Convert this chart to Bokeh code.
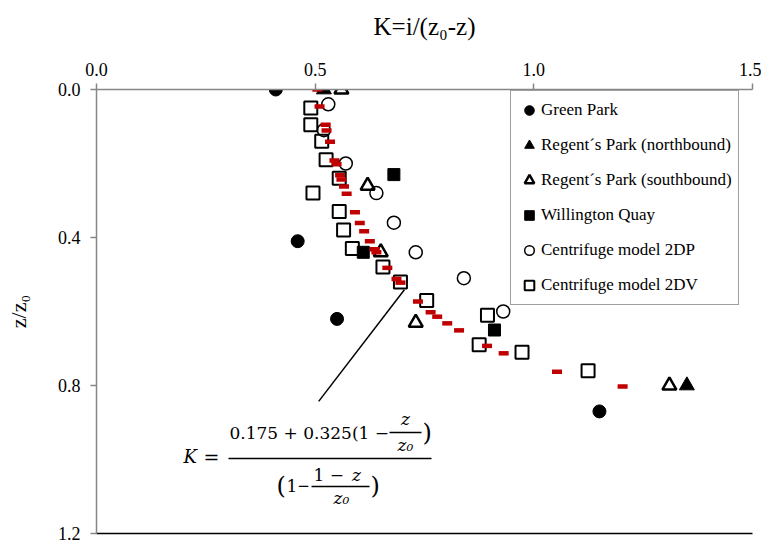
from bokeh.plotting import figure
from bokeh.models import (Range1d, FixedTicker, PrintfTickFormatter, LinearAxis,
                          Legend, LegendItem, Label)
from bokeh.embed import file_html
from bokeh.resources import INLINE

# ---------------- data (K, z/z0) ----------------
x_ticks = [0.0, 0.5, 1.0, 1.5]
y_ticks = [0.0, 0.4, 0.8, 1.2]

green_k = [0.41, 0.46, 0.55, 1.15]
green_z = [0.00, 0.41, 0.62, 0.87]

rpn_k = [0.52, 1.35]
rpn_z = [0.00, 0.80]

rps_k = [0.56, 0.62, 0.65, 0.73, 1.31]
rps_z = [0.00, 0.26, 0.44, 0.63, 0.80]

wq_k = [0.68, 0.61, 0.91]
wq_z = [0.23, 0.44, 0.65]

dp_k = [0.53, 0.52, 0.57, 0.64, 0.68, 0.73, 0.84, 0.93]
dp_z = [0.04, 0.11, 0.20, 0.28, 0.36, 0.44, 0.51, 0.60]

dv_k = [0.49, 0.49, 0.515, 0.525, 0.555, 0.495, 0.555, 0.565, 0.585, 0.655,
        0.695, 0.755, 0.894, 0.875, 0.973, 1.124]
dv_z = [0.05, 0.095, 0.14, 0.19, 0.24, 0.28, 0.33, 0.38, 0.43, 0.48,
        0.52, 0.57, 0.61, 0.69, 0.71, 0.76]

fit_k = [0.505, 0.510, 0.524, 0.526, 0.534, 0.544, 0.549, 0.557, 0.560, 0.566,
         0.572, 0.591, 0.602, 0.612, 0.625, 0.636, 0.640, 0.665, 0.686, 0.695,
         0.735, 0.764, 0.779, 0.802, 0.829, 0.893, 0.931, 1.053, 1.203]
fit_z = [0.00, 0.046, 0.095, 0.111, 0.141, 0.192, 0.202, 0.232, 0.243, 0.262,
         0.282, 0.332, 0.361, 0.383, 0.41, 0.432, 0.44, 0.482, 0.512, 0.522,
         0.573, 0.602, 0.614, 0.632, 0.651, 0.693, 0.713, 0.763, 0.803]

# pointer line from the formula to the fitted curve
pointer_k = [0.508, 0.704]
pointer_z = [0.843, 0.541]

# ---------------- figure ----------------
W, H = 761, 541
L, R, T, B = 96, 9, 89, 8
p = figure(width=W, height=H, x_range=Range1d(0, 1.5), y_range=Range1d(1.2, 0),
           x_axis_location="above", output_backend="svg", toolbar_location=None,
           min_border_left=L, min_border_right=R, min_border_top=T, min_border_bottom=B)
p.grid.visible = False
p.outline_line_color = None
p.background_fill_color = "white"
p.border_fill_color = "white"

SERIF = "Liberation Serif"
for ax in (p.xaxis[0], p.yaxis[0]):
    ax.axis_line_color = "#868686"
    ax.axis_line_width = 1.5
    ax.major_tick_line_color = "#868686"
    ax.major_tick_line_width = 1.5
    ax.minor_tick_line_color = None
    ax.major_tick_in = 0
    ax.major_tick_out = 6
    ax.major_label_text_font = SERIF
    ax.major_label_text_font_size = "18px"
    ax.major_label_text_color = "black"
    ax.axis_label_text_font = SERIF
    ax.axis_label_text_font_style = "normal"
    ax.axis_label_text_color = "black"
    ax.formatter = PrintfTickFormatter(format="%.1f")

p.xaxis[0].ticker = FixedTicker(ticks=x_ticks)
p.yaxis[0].ticker = FixedTicker(ticks=y_ticks)
p.xaxis[0].axis_label = "K=i/(z₀-z)"
p.xaxis[0].axis_label_text_font_size = "25px"
p.xaxis[0].axis_label_standoff = 20
p.xaxis[0].major_label_standoff = 8
p.yaxis[0].axis_label = "z/z₀"
p.yaxis[0].axis_label_text_font_size = "22px"
p.yaxis[0].axis_label_standoff = 24
p.yaxis[0].major_label_standoff = 10

bottom = LinearAxis(ticker=FixedTicker(ticks=[]), axis_line_color="black",
                    axis_line_width=1.5, major_tick_line_color=None,
                    minor_tick_line_color=None, major_label_text_font_size="0px")
p.add_layout(bottom, "below")

# ---------------- series ----------------
r_gp = p.scatter(green_k, green_z, marker="circle", size=13, fill_color="black",
                 line_color="black")
r_rpn = p.scatter(rpn_k, rpn_z, marker="triangle", size=15, fill_color="black",
                  line_color="black")
r_rps = p.scatter(rps_k, rps_z, marker="triangle", size=14, fill_color=None,
                  line_color="black", line_width=2.5)
r_wq = p.scatter(wq_k, wq_z, marker="square", size=12, fill_color="black",
                 line_color="black")
r_dp = p.scatter(dp_k, dp_z, marker="circle", size=13, fill_color=None,
                 line_color="black", line_width=1.5)
r_dv = p.scatter(dv_k, dv_z, marker="square", size=13, fill_color=None,
                 line_color="black", line_width=2)
p.scatter(fit_k, fit_z, marker="dash", size=10, line_color="#c00000", line_width=4.5)

p.line(pointer_k, pointer_z, line_color="black", line_width=1.5)

legend = Legend(items=[
    LegendItem(label="Green Park", renderers=[r_gp]),
    LegendItem(label="Regent´s Park (northbound)", renderers=[r_rpn]),
    LegendItem(label="Regent´s Park (southbound)", renderers=[r_rps]),
    LegendItem(label="Willington Quay", renderers=[r_wq]),
    LegendItem(label="Centrifuge model 2DP", renderers=[r_dp]),
    LegendItem(label="Centrifuge model 2DV", renderers=[r_dv]),
], location=(414, 228), border_line_color="#404040", border_line_width=1,
    label_text_font=SERIF, label_text_font_size="17px", label_text_color="black",
    glyph_width=24, glyph_height=26, label_height=26, spacing=9, padding=6,
    margin=0, label_standoff=0, background_fill_alpha=1)
p.add_layout(legend)

# ---------------- formula (annotation text) ----------------
FW = (W - L - R) / 1.5
FH = (H - T - B) / 1.2


def dx(px):
    return (px - L) / FW


def dy(py):
    return (py - T) / FH


MATH = "DejaVu Serif"


def lab(px, py, text, italic=False, align="left", size="17px"):
    p.add_layout(Label(x=dx(px), y=dy(py), text=text, text_font=MATH,
                       text_font_size=size, text_baseline="middle",
                       text_align=align, text_color="black",
                       text_font_style="italic" if italic else "normal"))


lab(183, 456, "K", italic=True, size="18px")
lab(203, 456, "=", size="19px")
lab(229, 432, "0.175 + 0.325(1 −")
lab(405, 418, "z", italic=True, align="center")
lab(405, 444, "z₀", italic=True, align="center")
lab(422, 432, ")", size="24px")
lab(276, 485, "(", size="24px")
lab(286, 485, "1")
lab(303, 485, "−", align="center", size="15px")
lab(313, 474, "1 −")
lab(356, 474, "z", italic=True, align="center")
lab(341, 497, "z₀", italic=True, align="center")
lab(370, 485, ")", size="24px")

bar_x0 = [dx(228), dx(389), dx(311)]
bar_x1 = [dx(431), dx(421), dx(369)]
bar_y = [dy(458), dy(432), dy(486)]
p.segment(bar_x0, bar_y, bar_x1, bar_y, line_color="black", line_width=1.5)

open("out.html", "w").write(file_html(p, INLINE))
